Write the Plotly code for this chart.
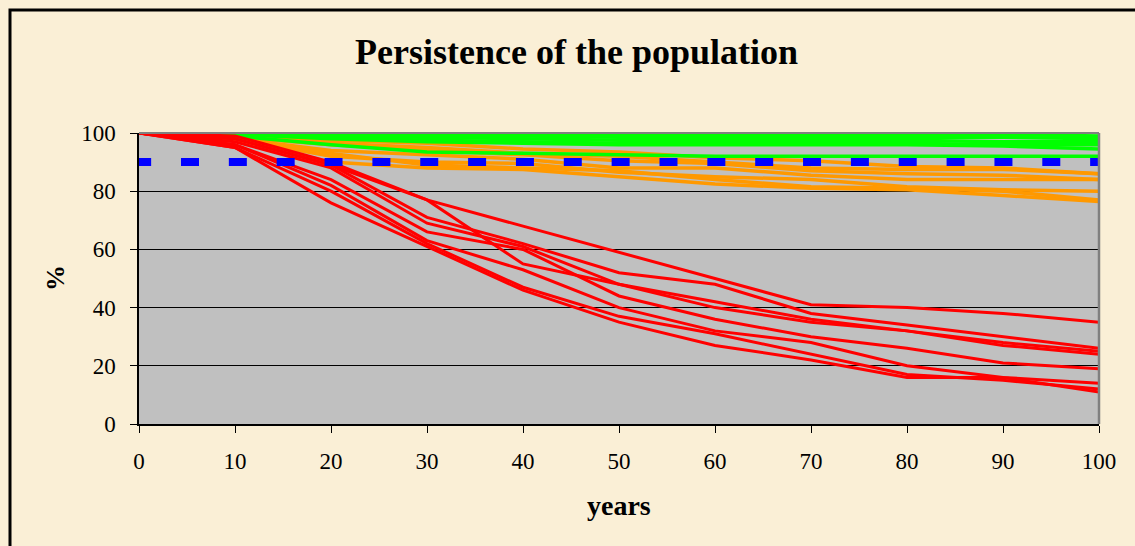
import plotly.graph_objects as go

# Simulation time steps (years)
years = [0, 10, 20, 30, 40, 50, 60, 70, 80, 90, 100]

# Persistence (%) per scenario — high-persistence scenarios
green_runs = [
    [100, 100, 99.5, 99.5, 99.5, 99.5, 99.5, 99.5, 99.5, 99.5, 99],
    [100, 100, 99, 99, 99, 98.5, 98.5, 98.5, 98.5, 98.5, 98],
    [100, 100, 99, 98.5, 98, 97.5, 97.5, 97.5, 97.5, 97, 97],
    [100, 99.5, 98.5, 97.5, 97, 96.5, 96.5, 96.5, 96.5, 96, 96],
    [100, 99.5, 98, 97, 96.5, 96, 96, 96, 96, 95.5, 94.5],
    [100, 99, 96, 93.5, 93, 92.5, 92, 92, 92, 92, 92],
]

# Intermediate scenarios
orange_runs = [
    [100, 99, 97.5, 96.5, 94.5, 93.5, 91.5, 90.5, 88.5, 88, 86],
    [100, 98.5, 96.5, 95, 93, 92, 90, 88, 87.5, 87.5, 86],
    [100, 98.5, 96, 94, 92.5, 90.5, 89.5, 87, 86, 85.5, 84],
    [100, 98, 94, 92.5, 91, 88, 88, 85.5, 84, 84, 84],
    [100, 98, 92, 90, 89.5, 86.5, 85, 84, 81.5, 80.5, 80],
    [100, 97.5, 90, 88, 87.5, 85, 82.5, 81, 80.5, 78.5, 76.5],
    [100, 98, 93, 89, 88, 87, 84, 81.5, 81, 80, 77],
]

# Declining scenarios
red_runs = [
    [100, 99, 90, 77, 68, 59, 50, 41, 40, 38, 35],
    [100, 98, 89, 77, 55, 48, 40, 35, 32, 27, 24],
    [100, 98, 89, 71, 62, 52, 48, 38, 34, 30, 26],
    [100, 97, 88, 69, 61, 48, 42, 36, 32, 28, 25],
    [100, 96, 84, 66, 60, 44, 36, 30, 26, 21, 19],
    [100, 96, 82, 63, 53, 40, 32, 28, 20, 16, 14],
    [100, 95, 80, 62, 47, 37, 31, 24, 17, 15, 12],
    [100, 95, 76, 61, 46, 35, 27, 22, 16, 16, 11],
]

threshold = 90
x_ticks = [0, 10, 20, 30, 40, 50, 60, 70, 80, 90, 100]
y_ticks = [0, 20, 40, 60, 80, 100]

FONT = "Liberation Serif, Times New Roman, serif"
W, H = 1135, 546
ML, MR, MT, MB = 139, 36, 133, 122
PW, PH = W - ML - MR, H - MT - MB


def px_to_paper_x(px):
    return (px - ML) / PW


def px_to_paper_y(py):
    return (H - MB - py) / PH


fig = go.Figure()

for run in orange_runs:
    fig.add_trace(go.Scatter(x=years, y=run, mode="lines",
                             line=dict(color="#FF9900", width=3.5),
                             showlegend=False, hoverinfo="skip"))
for run in green_runs:
    fig.add_trace(go.Scatter(x=years, y=run, mode="lines",
                             line=dict(color="#00FF00", width=3.5),
                             showlegend=False, hoverinfo="skip"))
for run in red_runs:
    fig.add_trace(go.Scatter(x=years, y=run, mode="lines",
                             line=dict(color="#FF0000", width=3),
                             showlegend=False, hoverinfo="skip"))

# 90 % threshold, dash phase shifted slightly left of the axis start
dash_start = years[0] - 0.61
fig.add_trace(go.Scatter(x=[dash_start, years[-1]], y=[threshold, threshold],
                         mode="lines",
                         line=dict(color="#0000FF", width=8, dash="18px,29.85px"),
                         showlegend=False, hoverinfo="skip"))

fig.update_layout(
    width=W, height=H,
    margin=dict(l=ML, r=MR, t=MT, b=MB, pad=0),
    paper_bgcolor="#FAEFD6",
    plot_bgcolor="#C0C0C0",
    font=dict(family=FONT, color="black", size=23),
    showlegend=False,
    xaxis=dict(range=[0, 100], tickvals=x_ticks, ticks="outside", ticklen=7,
               tickwidth=1, tickcolor="black", showgrid=False, zeroline=False,
               showline=True, linecolor="black", linewidth=1.5,
               tickfont=dict(size=23), ticklabelstandoff=9, fixedrange=True),
    yaxis=dict(range=[0, 100], tickvals=y_ticks, ticks="outside", ticklen=7,
               tickwidth=1, tickcolor="black", showgrid=True, gridcolor="black",
               gridwidth=1, zeroline=False, showline=True, linecolor="black",
               linewidth=1.5, tickfont=dict(size=23), ticklabelstandoff=10,
               fixedrange=True),
    shapes=[
        # grey plot-area border on top and right
        dict(type="line", xref="paper", yref="paper", x0=0, x1=1, y0=1, y1=1,
             line=dict(color="#808080", width=2)),
        dict(type="line", xref="paper", yref="paper", x0=1, x1=1, y0=0, y1=1,
             line=dict(color="#808080", width=2.5)),
        # outer chart frame
        dict(type="rect", xref="paper", yref="paper",
             x0=px_to_paper_x(10), x1=px_to_paper_x(W + 40),
             y0=px_to_paper_y(H + 40), y1=px_to_paper_y(10),
             line=dict(color="black", width=3), fillcolor="rgba(0,0,0,0)"),
    ],
    annotations=[
        dict(text="<b>Persistence of the population</b>", xref="paper", yref="paper",
             x=px_to_paper_x(576), y=px_to_paper_y(52), xanchor="center",
             yanchor="middle", showarrow=False, font=dict(size=36, family=FONT)),
        dict(text="<b>%</b>", xref="paper", yref="paper",
             x=px_to_paper_x(55), y=px_to_paper_y(278), xanchor="center",
             yanchor="middle", textangle=-90, showarrow=False,
             font=dict(size=26, family=FONT)),
        dict(text="<b>years</b>", xref="paper", yref="paper",
             x=px_to_paper_x(619), y=px_to_paper_y(506), xanchor="center",
             yanchor="middle", showarrow=False, font=dict(size=28, family=FONT)),
    ],
)

fig.write_html("out.html")
